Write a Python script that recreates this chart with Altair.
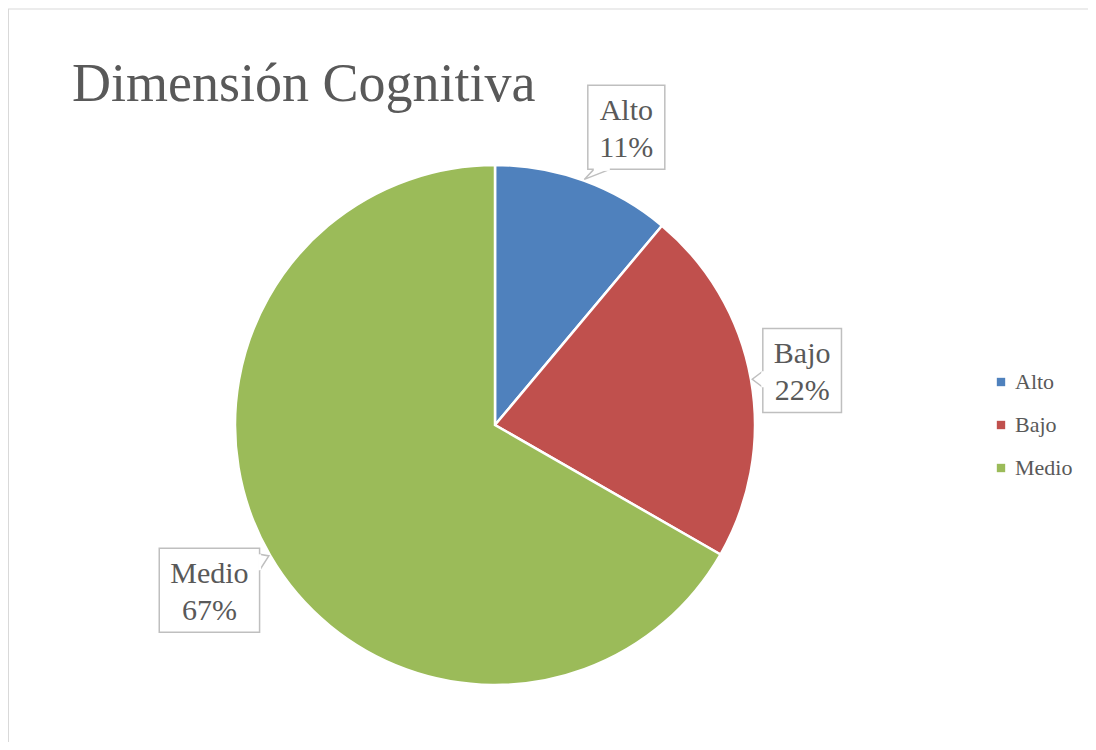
import math
import altair as alt
import pandas as pd

# ---- data ----
categories = ["Alto", "Bajo", "Medio"]
values = [11.1, 22.2, 66.7]          # percent of the pie
pct_labels = ["11%", "22%", "67%"]
colors = ["#4F81BD", "#C0504D", "#9BBB59"]
title_text = "Dimensión Cognitiva"

# ---- layout ----
W, H = 1080, 734
CX, CY = 487, 417          # pie centre inside the plot area (px)
R = 260                    # pie radius (px)
FONT = "Liberation Serif, Times New Roman, serif"
TXT = "#595959"
BOX = "#BFBFBF"
LABEL_FS = 30

times_w = {"A": .722, "l": .278, "t": .278, "o": .5, "B": .667, "a": .444, "j": .278,
           "M": .889, "e": .444, "d": .5, "i": .278, "%": .833}


def text_w(s, fs):
    return sum(times_w.get(ch, .5) for ch in s) * fs


pie = pd.DataFrame({"cat": categories, "val": values, "ord": range(len(values))})

total = sum(values)
boxes, pointers, covers = [], [], []
cum = 0.0
for cat, v, p in zip(categories, values, pct_labels):
    mid = (cum + v / 2) / total * 2 * math.pi
    cum += v
    ux, uy = math.sin(mid), math.cos(mid)          # y up
    w = max(text_w(cat, LABEL_FS), text_w(p, LABEL_FS)) + 22
    h = 84
    ext = min(w / 2 / abs(ux) if abs(ux) > 1e-9 else 1e9, h / 2 / abs(uy) if abs(uy) > 1e-9 else 1e9)
    tx, ty = R * 1.005 * ux, R * 1.005 * uy
    bx, by = (R + 12 + ext) * ux, (R + 12 + ext) * uy
    # a best-fit label sits beside a thin slice rather than straight above its tip
    if abs(ux) < 0.5:
        bx += math.copysign(w * 0.3, ux)
    boxes.append({"cat": cat, "pct": p, "x": bx - w / 2, "x2": bx + w / 2,
                  "y": by - h / 2, "y2": by + h / 2, "cx": bx, "cy": by})
    dx, dy = tx - bx, ty - by
    if abs(dx) / (w / 2) > abs(dy) / (h / 2):
        ex = bx + math.copysign(w / 2, dx)
        m = min(max(ty, by - h / 2 + 14), by + h / 2 - 14)
        p1, p2 = (ex, m - 8), (ex, m + 8)
    else:
        ey = by + math.copysign(h / 2, dy)
        m = min(max(tx, bx - w / 2 + 14), bx + w / 2 - 14)
        p1, p2 = (m - 8, ey), (m + 8, ey)
    for i, (px, py) in enumerate([p1, (tx, ty), p2]):
        pointers.append({"cat": cat, "i": i, "x": px, "y": py})
    covers.append({"cat": cat, "x": p1[0], "y": p1[1], "x2": p2[0], "y2": p2[1]})

boxes = pd.DataFrame(boxes)
pointers = pd.DataFrame(pointers)
covers = pd.DataFrame(covers)

xs = alt.Scale(domain=[-CX, W - CX], nice=False, zero=False)
ys = alt.Scale(domain=[-(H - CY), CY], nice=False, zero=False)

arcs = alt.Chart(pie).mark_arc(outerRadius=R, stroke="white", strokeWidth=2.5).encode(
    theta=alt.Theta("val:Q", stack=True),
    order=alt.Order("ord:Q"),
    color=alt.Color("cat:N", scale=alt.Scale(domain=categories, range=colors),
                    legend=alt.Legend(title=None, orient="none", legendX=982, legendY=363,
                                      symbolType="square", symbolSize=70, symbolStrokeWidth=0,
                                      labelFont=FONT, labelFontSize=22, labelColor=TXT,
                                      labelOffset=3, rowPadding=21)),
    x=alt.value(CX), y=alt.value(CY),
)

rects = alt.Chart(boxes).mark_rect(fill="white", stroke=BOX, strokeWidth=1.5).encode(
    x=alt.X("x:Q", scale=xs, axis=None), x2="x2:Q",
    y=alt.Y("y:Q", scale=ys, axis=None), y2="y2:Q",
)

cover = alt.Chart(covers).mark_rule(color="white", strokeWidth=3).encode(
    x=alt.X("x:Q", scale=xs, axis=None), x2="x2:Q",
    y=alt.Y("y:Q", scale=ys, axis=None), y2="y2:Q",
)

ptr = alt.Chart(pointers).mark_line(color=BOX, strokeWidth=1.5).encode(
    x=alt.X("x:Q", scale=xs, axis=None),
    y=alt.Y("y:Q", scale=ys, axis=None),
    detail="cat:N", order="i:Q",
)

line1 = alt.Chart(boxes).mark_text(font=FONT, fontSize=LABEL_FS, color=TXT,
                                   baseline="alphabetic", dy=-7).encode(
    x=alt.X("cx:Q", scale=xs, axis=None), y=alt.Y("cy:Q", scale=ys, axis=None), text="cat:N")

line2 = alt.Chart(boxes).mark_text(font=FONT, fontSize=LABEL_FS, color=TXT,
                                   baseline="alphabetic", dy=30).encode(
    x=alt.X("cx:Q", scale=xs, axis=None), y=alt.Y("cy:Q", scale=ys, axis=None), text="pct:N")

title = alt.Chart(pd.DataFrame({"t": [title_text]})).mark_text(
    font=FONT, fontSize=54, color=TXT, align="left", baseline="alphabetic").encode(
    x=alt.value(64), y=alt.value(93), text="t:N")

frame_top = alt.Chart(pd.DataFrame({"k": [0]})).mark_rule(color="#D9D9D9", strokeWidth=1).encode(
    x=alt.value(0), x2=alt.value(W + 20), y=alt.value(1))
frame_left = alt.Chart(pd.DataFrame({"k": [0]})).mark_rule(color="#D9D9D9", strokeWidth=1).encode(
    x=alt.value(0.5), y=alt.value(1), y2=alt.value(H + 20))

chart = alt.layer(frame_top, frame_left, arcs, ptr, rects, cover, line1, line2, title).properties(
    width=W, height=H, autosize=alt.AutoSizeParams(type="none"), padding=0,
).configure_view(stroke=None)

chart.save("out.html", embed_options={"renderer": "svg", "actions": False})
